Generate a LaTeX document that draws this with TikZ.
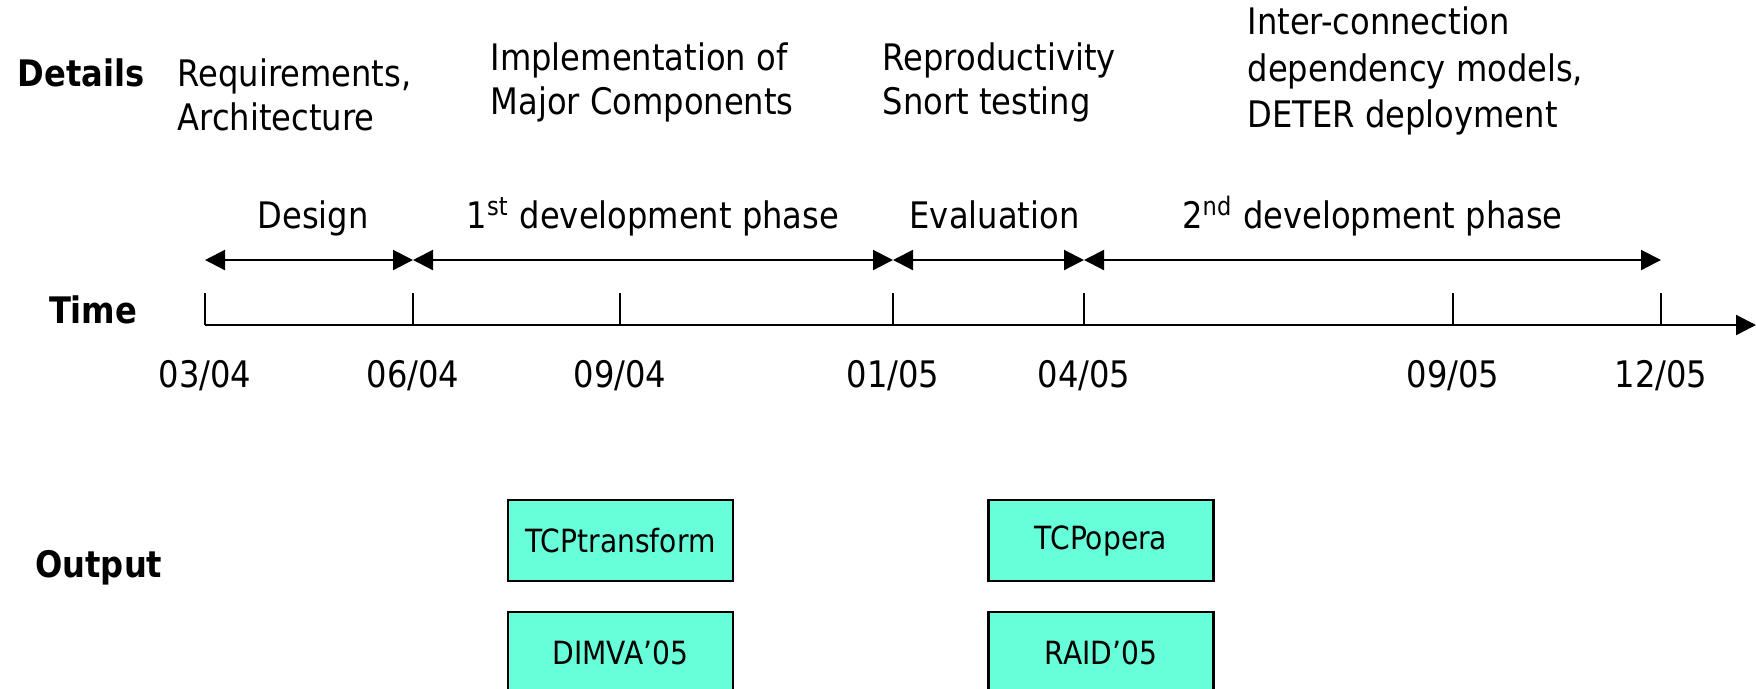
\documentclass[tikz,border=0pt]{standalone}
\usepackage{fontspec}
\setmainfont{DejaVu Sans}[FakeStretch=0.88]
\usetikzlibrary{arrows.meta}
\definecolor{boxgreen}{RGB}{102,255,217}

\begin{document}
\begin{tikzpicture}[x=0.1mm,y=-0.1mm,
  txt/.style={font=\fontsize{10.4}{12.5}\selectfont, inner sep=0pt, align=left},
  head/.style={font=\fontsize{10.4}{12.5}\selectfont\bfseries, inner sep=0pt},
  phase/.style={line width=0.6pt, {Triangle[length=2mm,width=2mm]}-{Triangle[length=2mm,width=2mm]}},
  outbox/.style={draw, line width=0.6pt, fill=boxgreen, minimum width=22.5mm, minimum height=8.1mm, inner sep=0pt, font=\fontsize{9.1}{11}\selectfont}]
\useasboundingbox (0,0) rectangle (1756,688);

% row headings
\node[head, anchor=base east] (details) at (145,86) {Details};
\node[head, anchor=base east] (time) at (138,323) {Time};
\node[head, anchor=base east] (output) at (163,577) {Output};

% details
\node[txt, anchor=north west] (req) at (177,58) {Requirements,\\Architecture};
\node[txt, anchor=north west] (impl) at (490,42) {Implementation of\\Major Components};
\node[txt, anchor=north west] (repro) at (882,42) {Reproductivity\\Snort testing};
\node[txt, anchor=north west, font=\fontsize{10.4}{13.3}\selectfont] (inter) at (1247,6) {Inter-connection\\dependency models,\\DETER deployment};

% time axis
\foreach \x/\d [count=\i] in {205/03\slash 04,413/06\slash 04,620/09\slash 04,893/01\slash 05,1084/04\slash 05,1453/09\slash 05,1661/12\slash 05} {
  \coordinate (t\i) at (\x,325);
  \coordinate (p\i) at (\x,260);
  \draw[line width=0.6pt] (t\i) -- ++(0,-32);
  \node[txt, anchor=base] (d\i) at (\x,387) {\d};
}
\coordinate (tend) at (1756,325);
\draw[line width=0.6pt, -{Triangle[length=2mm,width=2mm]}] (t1) -- (tend);

% phases
\draw[phase] (p1) -- node[txt, midway, anchor=base, yshift=3.2mm, xshift=0.4mm] (design) {Design} (p2);
\draw[phase] (p2) -- node[txt, midway, anchor=base, yshift=3.2mm] (dev1) {1\textsuperscript{st} development phase} (p4);
\draw[phase] (p4) -- node[txt, midway, anchor=base, yshift=3.2mm, xshift=0.6mm] (eval) {Evaluation} (p5);
\draw[phase] (p5) -- node[txt, midway, anchor=base, yshift=3.2mm] (dev2) {2\textsuperscript{nd} development phase} (p7);

% output
\node[outbox] (tcptr) at (620.5,540.5) {TCPtransform};
\node[outbox] (dimva) at (620.5,652.5) {DIMVA’05};
\node[outbox] (tcpop) at (1101,540.5) {TCPopera};
\node[outbox] (raid) at (1101,652.5) {RAID’05};
\end{tikzpicture}
\end{document}
